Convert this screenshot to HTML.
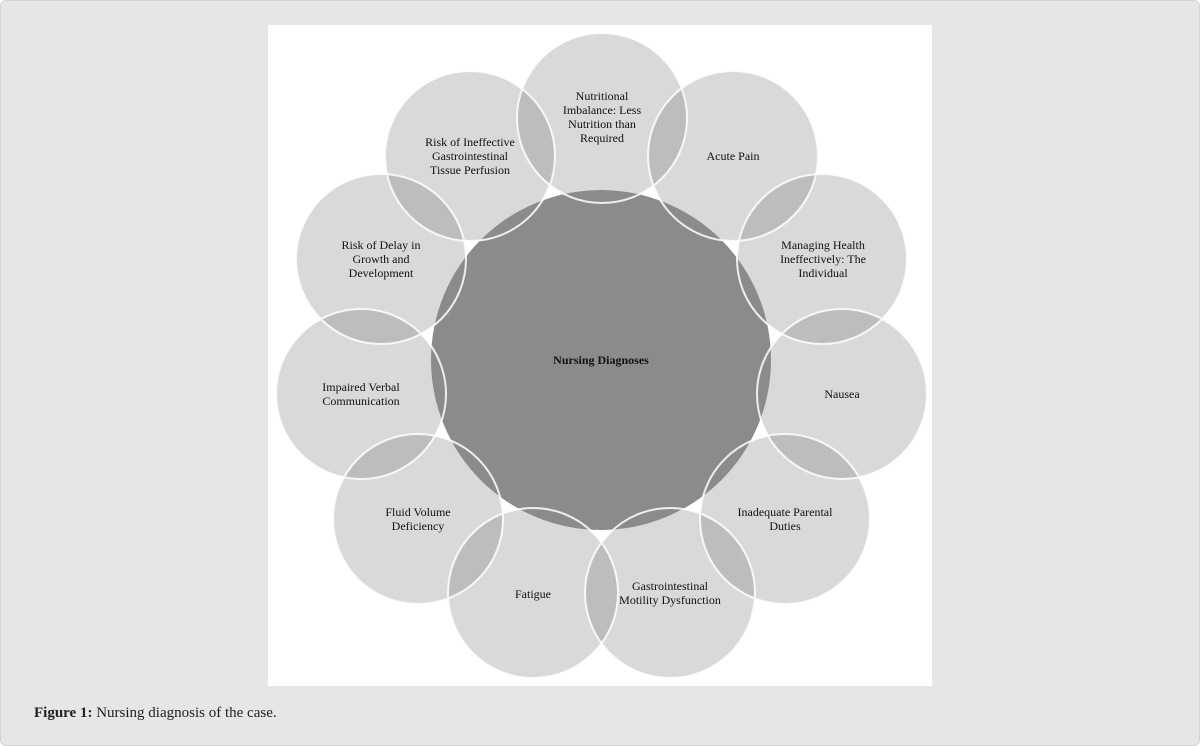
<!DOCTYPE html>
<html><head><style>
html,body{margin:0;padding:0;width:1200px;height:746px;overflow:hidden;background:#fff;}
.outer{position:absolute;left:0;top:0;width:1198px;height:744px;background:#e6e6e6;border:1px solid #d4d4d4;border-radius:6px;}
.panel{position:absolute;left:268px;top:25px;width:664px;height:661px;background:#fff;}
svg{position:absolute;left:0;top:0;}
.cap{position:absolute;left:34px;top:705px;font:15px "Liberation Serif",serif;color:#222;}
</style></head><body>
<div class="outer"></div>
<div class="panel"></div>
<svg width="1200" height="746" font-family="Liberation Serif, serif" font-size="12" fill="#111">
<defs>
<g id="cs">
<circle cx="602" cy="118" r="85"/>
<circle cx="733" cy="156" r="85"/>
<circle cx="822" cy="259" r="85"/>
<circle cx="842" cy="394" r="85"/>
<circle cx="785" cy="519" r="85"/>
<circle cx="670" cy="593" r="85"/>
<circle cx="533" cy="593" r="85"/>
<circle cx="418" cy="519" r="85"/>
<circle cx="361" cy="394" r="85"/>
<circle cx="381" cy="259" r="85"/>
<circle cx="470" cy="156" r="85"/>
</g>
</defs>
<g fill="rgba(120,120,120,0.28)" stroke="none"><use href="#cs"/></g>
<circle cx="601" cy="360" r="170" fill="#8b8b8b"/>
<g fill="none" stroke="#fff" stroke-width="2" opacity="0.85"><use href="#cs"/></g>
<g text-anchor="middle">
<text x="601" y="364" font-weight="bold">Nursing Diagnoses</text>
<text x="602" y="100">Nutritional</text><text x="602" y="114">Imbalance: Less</text><text x="602" y="128">Nutrition than</text><text x="602" y="142">Required</text>
<text x="733" y="160">Acute Pain</text>
<text x="823" y="249">Managing Health</text><text x="823" y="263">Ineffectively: The</text><text x="823" y="277">Individual</text>
<text x="842" y="398">Nausea</text>
<text x="785" y="516">Inadequate Parental</text><text x="785" y="530">Duties</text>
<text x="670" y="590">Gastrointestinal</text><text x="670" y="604">Motility Dysfunction</text>
<text x="533" y="598">Fatigue</text>
<text x="418" y="516">Fluid Volume</text><text x="418" y="530">Deficiency</text>
<text x="361" y="391">Impaired Verbal</text><text x="361" y="405">Communication</text>
<text x="381" y="249">Risk of Delay in</text><text x="381" y="263">Growth and</text><text x="381" y="277">Development</text>
<text x="470" y="146">Risk of Ineffective</text><text x="470" y="160">Gastrointestinal</text><text x="470" y="174">Tissue Perfusion</text>
</g>
</svg>
<div class="cap"><b>Figure 1:</b> Nursing diagnosis of the case.</div>
</body></html>
